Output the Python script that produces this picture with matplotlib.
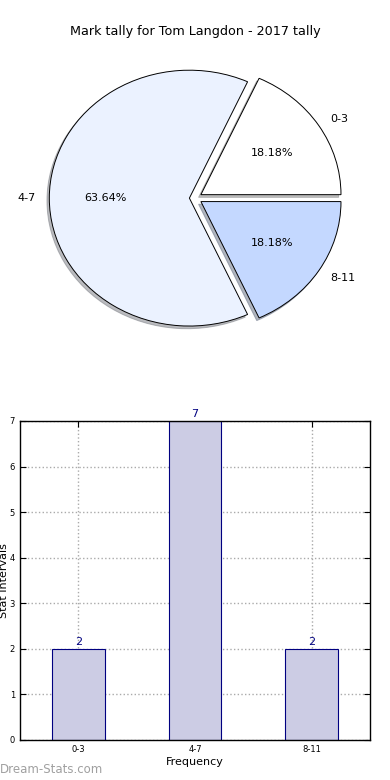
import matplotlib
matplotlib.use("Agg")
import matplotlib.pyplot as plt

# data
title = "Mark tally for Tom Langdon - 2017 tally"
intervals = ["0-3", "4-7", "8-11"]
counts = [2, 7, 2]
pie_colors = ["#ffffff", "#ebf2ff", "#c4d8ff"]
explode = [0.05, 0.04, 0.05]

fig = plt.figure(figsize=(3.9, 7.8), dpi=100)

# pie on top
ax1 = fig.add_axes([0.051, 0.541, 0.898, 0.41])
wedges, texts, autotexts = ax1.pie(
    counts,
    labels=intervals,
    colors=pie_colors,
    explode=explode,
    autopct="%1.2f%%",
    shadow={"ox": -0.012, "oy": -0.015, "shade": 0.5},
    startangle=0,
    wedgeprops=dict(edgecolor="black", linewidth=0.7),
    textprops=dict(fontsize=8),
)
ax1.set_aspect("auto")
ax1.set_xlim(-1.25, 1.25)
ax1.set_ylim(-1.25, 1.25)
ax1.set_title(title, fontsize=9.2, pad=2)

# bar chart below
ax2 = fig.add_axes([0.051, 0.0513, 0.898, 0.409])
xs = range(len(intervals))
bars = ax2.bar(xs, counts, width=0.45, color="#cccce4", edgecolor="#000080", linewidth=0.8, zorder=2)
for x, c in zip(xs, counts):
    ax2.text(x, c + 0.05, str(c), ha="center", va="bottom", fontsize=8, color="#000080")
ax2.set_xlim(-0.5, 2.5)
ax2.set_ylim(0, 7)
ax2.set_xticks(list(xs))
ax2.set_xticklabels(intervals)
ax2.set_yticks(range(0, 8))
ax2.tick_params(direction="in", top=True, right=True, labelsize=6, length=4)
ax2.grid(True, linestyle=":", color="#aaaaaa", linewidth=1, zorder=0)
ax2.set_xlabel("Frequency", fontsize=8, labelpad=2)
ax2.set_ylabel("Stat Intervals", fontsize=8)
ax2.yaxis.set_label_coords(-0.031, 0.5)
for s in ax2.spines.values():
    s.set_linewidth(1)

fig.text(0.0, 0.005, "Dream-Stats.com", fontsize=8.5, color="#a0a0a0",
         ha="left", va="bottom")

fig.savefig("out.png", dpi=100)
